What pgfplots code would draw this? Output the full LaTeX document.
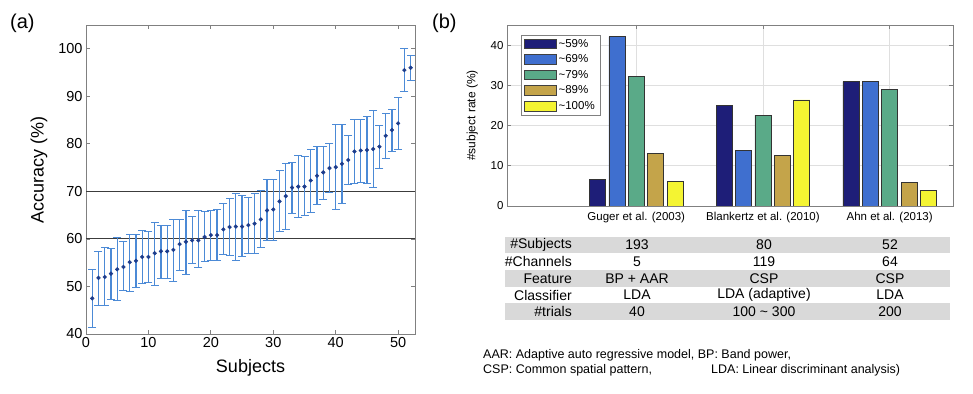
\documentclass[border=0pt]{standalone}
\usepackage{pgfplots}
\pgfplotsset{compat=1.18}
\usepackage{pgfplotstable}
\usepackage{fontspec}
\setmainfont{Liberation Sans}
\definecolor{ebblue}{HTML}{4C8AD6}
\definecolor{dotblue}{HTML}{1C3C8C}
\definecolor{axgray}{HTML}{808080}
\definecolor{hline}{HTML}{3C3C3C}
\definecolor{cnavy}{HTML}{1E1E78}
\definecolor{cblue}{HTML}{3F6FCF}
\definecolor{cgreen}{HTML}{5AAA88}
\definecolor{cgold}{HTML}{C4A44A}
\definecolor{cyellow}{HTML}{F4F432}
\definecolor{rowgray}{HTML}{D9D9D9}

\pgfplotstableread{
x y ep em
1 47.5 6.1 6.1
2 51.8 5.5 5.7
3 52.0 6.3 6.1
4 52.7 5.3 5.4
5 53.6 6.6 6.5
6 54.1 5.3 5.0
7 55.1 5.9 6.1
8 55.4 5.6 5.6
9 56.2 5.6 5.6
10 56.2 5.4 5.4
11 57.0 6.4 6.7
12 57.4 5.5 5.7
13 57.4 5.5 5.8
14 57.7 6.4 6.6
15 58.9 5.2 5.5
16 59.4 6.6 6.8
17 59.7 5.0 4.9
18 59.7 6.3 5.8
19 60.4 5.4 5.2
20 60.8 5.2 5.3
21 60.8 5.3 5.3
22 62.0 5.4 5.3
23 62.5 6.1 5.9
24 62.6 6.9 7.1
25 62.6 6.5 6.2
26 62.9 5.9 6.0
27 63.2 6.3 6.3
28 64.1 6.1 5.9
29 66.0 6.4 6.4
30 66.2 6.2 6.5
31 67.9 6.5 6.3
32 69.0 6.9 7.1
33 70.8 5.3 5.5
34 71.0 6.5 6.4
35 71.0 6.3 6.1
36 72.3 6.5 6.7
37 73.3 6.1 6.1
38 74.0 5.5 5.8
39 74.9 5.1 5.1
40 75.1 8.9 9.0
41 75.8 8.2 8.4
42 76.6 5.1 5.2
43 78.4 6.8 6.8
44 78.6 6.6 6.8
45 78.7 7.0 7.1
46 78.9 8.2 8.1
47 79.4 4.5 4.5
48 81.7 4.7 4.7
49 82.9 4.4 4.5
50 84.3 5.4 5.4
51 95.5 4.6 4.5
52 96.0 2.6 2.6
}\acc

\pgfplotstableread{
x navy blue green gold yellow
2 6.7 42.1 32.2 13.1 6.2
3 25.1 13.8 22.6 12.6 26.4
4 30.9 30.9 28.9 5.9 3.8
}\rates

\begin{document}
\begin{tikzpicture}[x=1pt,y=1pt]
\path (0,0) rectangle (973,393);

% ---------- panel (a) ----------
\begin{axis}[
  at={(86pt,59pt)}, anchor=south west, scale only axis,
  width=329pt, height=309pt,
  xmin=0, xmax=52.7, ymin=40, ymax=105,
  xtick={0,10,...,50}, ytick={40,50,...,100},
  tick align=inside, major tick length=4pt,
  axis line style={axgray, line width=0.9pt},
  every tick/.style={axgray, line width=0.8pt},
  tick label style={font=\fontsize{14.5}{16}\selectfont},
  /pgf/number format/assume math mode=true,
  xlabel={Subjects}, ylabel={Accuracy (\%)},
  label style={font=\fontsize{18}{20}\selectfont},
  xlabel style={at={(axis description cs:0.5,-0.11)}, anchor=center},
  ylabel style={at={(axis description cs:-0.143,0.53)}, anchor=center},
  clip=false,
]
\addplot[hline, line width=1.1pt, forget plot] coordinates {(0,60) (52.7,60)};
\addplot[hline, line width=1.1pt, forget plot] coordinates {(0,70) (52.7,70)};
% error bars (vertical lines)
\addplot[draw=none, mark=none, forget plot,
  error bars/.cd, y dir=both, y explicit, error mark=none,
  error bar style={color=ebblue, line width=1.25pt}]
  table[x=x, y=y, y error plus=ep, y error minus=em] {\acc};
% caps
\addplot[only marks, mark=-, mark size=4pt, forget plot,
  mark options={draw=ebblue, line width=1pt}]
  table[x=x, y expr=\thisrow{y}+\thisrow{ep}] {\acc};
\addplot[only marks, mark=-, mark size=4pt, forget plot,
  mark options={draw=ebblue, line width=1pt}]
  table[x=x, y expr=\thisrow{y}-\thisrow{em}] {\acc};
% means
\addplot[only marks, mark=*, mark size=1.9pt,
  mark options={draw=dotblue, fill=dotblue}]
  table[x=x, y=y] {\acc};
\end{axis}

% ---------- panel (b) ----------
\begin{axis}[
  at={(507pt,187pt)}, anchor=south west, scale only axis,
  width=446pt, height=181pt,
  xmin=0.98, xmax=4.5, ymin=0, ymax=45,
  ybar=3.4pt, bar width=16pt,
  xtick={2,3,4},
  xticklabels={Guger et al. (2003), Blankertz et al. (2010), Ahn et al. (2013)},
  ytick={0,10,...,40},
  grid=major, grid style={gray!25, line width=0.6pt},
  tick align=inside, major tick length=4pt,
  axis line style={axgray, line width=0.9pt},
  every tick/.style={axgray, line width=0.8pt},
  tick label style={font=\fontsize{11.5}{13}\selectfont},
  xticklabel style={yshift=-3pt},
  /pgf/number format/assume math mode=true,
  ylabel={\#subject rate (\%)},
  ylabel style={font=\fontsize{12}{14}\selectfont, at={(axis description cs:-0.078,0.5)}, anchor=center},
  legend style={at={(0.031,0.945)}, anchor=north west, draw=axgray,
    font=\fontsize{11.5}{13}\selectfont, row sep=2.0pt, inner xsep=3pt, inner ysep=2pt,
    cells={anchor=west}},
  legend image code/.code={\draw[#1, draw=black!75, line width=0.6pt] (0pt,-4.8pt) rectangle (32pt,5pt);},
  legend cell align=left,
]
\addplot[fill=cnavy, draw=black!80, line width=0.6pt] table[x=x, y=navy] {\rates};
\addplot[fill=cblue, draw=black!80, line width=0.6pt] table[x=x, y=blue] {\rates};
\addplot[fill=cgreen, draw=black!80, line width=0.6pt] table[x=x, y=green] {\rates};
\addplot[fill=cgold, draw=black!80, line width=0.6pt] table[x=x, y=gold] {\rates};
\addplot[fill=cyellow, draw=black!80, line width=0.6pt] table[x=x, y=yellow] {\rates};
\legend{\textasciitilde59\%, \textasciitilde69\%, \textasciitilde79\%, \textasciitilde89\%, \textasciitilde100\%}
\end{axis}

% ---------- table ----------
\fill[rowgray] (505,156.3) rectangle (950,139.7);
\fill[rowgray] (505,123.0) rectangle (950,106.3);
\fill[rowgray] (505,89.7) rectangle (950,73.0);
\begin{scope}[every node/.style={font=\fontsize{14}{16}\selectfont, inner sep=0pt}]
\node[anchor=east] at (572,148) {\#Subjects};
\node[anchor=east] at (572,131.3) {\#Channels};
\node[anchor=east] at (572,114.7) {Feature};
\node[anchor=east] at (572,98) {Classifier};
\node[anchor=east] at (572,81.3) {\#trials};
\node at (637,148) {193};
\node at (764,148) {80};
\node at (890,148) {52};
\node at (637,131.3) {5};
\node at (764,131.3) {119};
\node at (890,131.3) {64};
\node at (637,114.7) {BP + AAR};
\node at (764,114.7) {CSP};
\node at (890,114.7) {CSP};
\node at (637,98) {LDA};
\node at (764,98) {LDA (adaptive)};
\node at (890,98) {LDA};
\node at (637,81.3) {40};
\node at (764,81.3) {100 \textasciitilde{} 300};
\node at (890,81.3) {200};
\end{scope}

% ---------- footnote ----------
\begin{scope}[every node/.style={font=\fontsize{12.5}{14}\selectfont, inner sep=0pt, anchor=west}]
\node at (483,38) {AAR: Adaptive auto regressive model, BP: Band power,};
\node at (483,23) {CSP: Common spatial pattern,};
\node at (711,23) {LDA: Linear discriminant analysis)};
\end{scope}

% ---------- panel labels ----------
\node[anchor=west, inner sep=0pt, font=\fontsize{20}{22}\selectfont] at (10,370) {(a)};
\node[anchor=west, inner sep=0pt, font=\fontsize{20}{22}\selectfont] at (432,370) {(b)};
\end{tikzpicture}
\end{document}
